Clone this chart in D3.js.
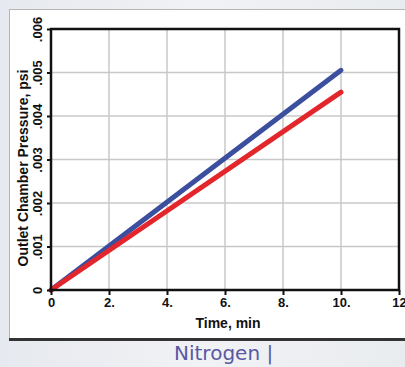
<!DOCTYPE html>
<html>
<head>
<meta charset="utf-8">
<script src="https://cdn.jsdelivr.net/npm/d3@7"></script>
<style>
  html, body { margin: 0; padding: 0; }
  body { width: 405px; height: 367px; overflow: hidden; }
  svg { display: block; }
  .tick-label { font-family: "Liberation Sans Narrow", "Arial Narrow", sans-serif; font-weight: bold; font-size: 13px; fill: #111; }
  .axis-title { font-family: "Liberation Sans", Arial, sans-serif; font-weight: bold; fill: #111; }
  .grid line { stroke: #c8c8c8; stroke-width: 1.5; }
  .caption { font-family: "DejaVu Sans", sans-serif; font-size: 20px; fill: #5a58a2; }
</style>
</head>
<body>
<script>
// Data
const time = [0, 10];
const blueSeries = [0, 0.00505];
const redSeries = [0, 0.00455];
const xTicks = [0, 2, 4, 6, 8, 10, 12];
const xTickLabels = ["0", "2.", "4.", "6.", "8.", "10.", "12"];
const yTicks = [0, 0.001, 0.002, 0.003, 0.004, 0.005, 0.006];
const yTickLabels = ["0", ".001", ".002", ".003", ".004", ".005", ".006"];

const width = 405;
const height = 367;

const svg = d3.select("body").append("svg")
  .attr("width", width)
  .attr("height", height);

// background outside the frame
const bg = svg.append("defs").append("linearGradient")
  .attr("id", "bg").attr("x1", 0).attr("y1", 0).attr("x2", 1).attr("y2", 0);
bg.append("stop").attr("offset", "0%").attr("stop-color", "#e6e9ef");
bg.append("stop").attr("offset", "50%").attr("stop-color", "#f1f2f5");
bg.append("stop").attr("offset", "100%").attr("stop-color", "#e9ecef");

svg.append("rect")
  .attr("width", width).attr("height", height)
  .attr("fill", "url(#bg)");

// white frame holding the chart
svg.append("rect")
  .attr("x", 9.5).attr("y", 9.5)
  .attr("width", width).attr("height", 329)
  .attr("fill", "#fff")
  .attr("stroke", "#b5b5b5");

svg.append("line")
  .attr("x1", 9).attr("x2", width)
  .attr("y1", 339.5).attr("y2", 339.5)
  .attr("stroke", "#333").attr("stroke-width", 3);

const x = d3.scaleLinear().domain([0, 12]).range([51, 399]);
const y = d3.scaleLinear().domain([0, 0.006]).range([290, 29]);

// grid
const grid = svg.append("g").attr("class", "grid");
grid.selectAll(".vx")
  .data(xTicks.slice(1, -1))
  .join("line")
  .attr("x1", d => x(d)).attr("x2", d => x(d))
  .attr("y1", y(0)).attr("y2", y(0.006));
grid.selectAll(".hy")
  .data(yTicks.slice(1, -1))
  .join("line")
  .attr("x1", x(0)).attr("x2", x(12))
  .attr("y1", d => y(d)).attr("y2", d => y(d));

// lines
const line = d3.line()
  .x(d => x(d[0]))
  .y(d => y(d[1]));

svg.append("path")
  .datum(d3.zip(time, blueSeries))
  .attr("d", line)
  .attr("fill", "none")
  .attr("stroke", "#3b4f9e")
  .attr("stroke-width", 5)
  .attr("stroke-linecap", "round");

svg.append("path")
  .datum(d3.zip(time, redSeries))
  .attr("d", line)
  .attr("fill", "none")
  .attr("stroke", "#e3262b")
  .attr("stroke-width", 5)
  .attr("stroke-linecap", "round");

// plot border
svg.append("rect")
  .attr("x", x(0)).attr("y", y(0.006))
  .attr("width", x(12) - x(0))
  .attr("height", y(0) - y(0.006))
  .attr("fill", "none")
  .attr("stroke", "#111")
  .attr("stroke-width", 2.5);

// x axis ticks
const xAxis = svg.append("g").attr("transform", `translate(0,${y(0)})`)
  .call(d3.axisBottom(x).tickValues(xTicks).tickSize(5).tickFormat((d, i) => xTickLabels[i]));
xAxis.select(".domain").remove();
xAxis.selectAll(".tick line").attr("stroke", "#111").attr("stroke-width", 2);
xAxis.selectAll(".tick text")
  .attr("class", "tick-label")
  .attr("y", 8);

// y axis ticks, labels rotated
const yAxis = svg.append("g").attr("transform", `translate(${x(0)},0)`)
  .call(d3.axisLeft(y).tickValues(yTicks).tickSize(4).tickFormat((d, i) => yTickLabels[i]));
yAxis.select(".domain").remove();
yAxis.selectAll(".tick line").attr("stroke", "#111").attr("stroke-width", 2);
yAxis.selectAll(".tick text")
  .attr("class", "tick-label")
  .attr("x", null).attr("dy", null)
  .attr("text-anchor", "middle")
  .attr("transform", "translate(-9,0) rotate(-90)");

// titles
svg.append("text")
  .attr("class", "axis-title")
  .attr("x", 228).attr("y", 328)
  .attr("text-anchor", "middle")
  .style("font-size", "14px")
  .text("Time, min");

svg.append("text")
  .attr("class", "axis-title")
  .attr("transform", "translate(28,168) rotate(-90)")
  .attr("text-anchor", "middle")
  .style("font-size", "14px")
  .text("Outlet Chamber Pressure, psi");

svg.append("text")
  .attr("class", "caption")
  .attr("x", 174).attr("y", 360)
  .text("Nitrogen |");
</script>
</body>
</html>
